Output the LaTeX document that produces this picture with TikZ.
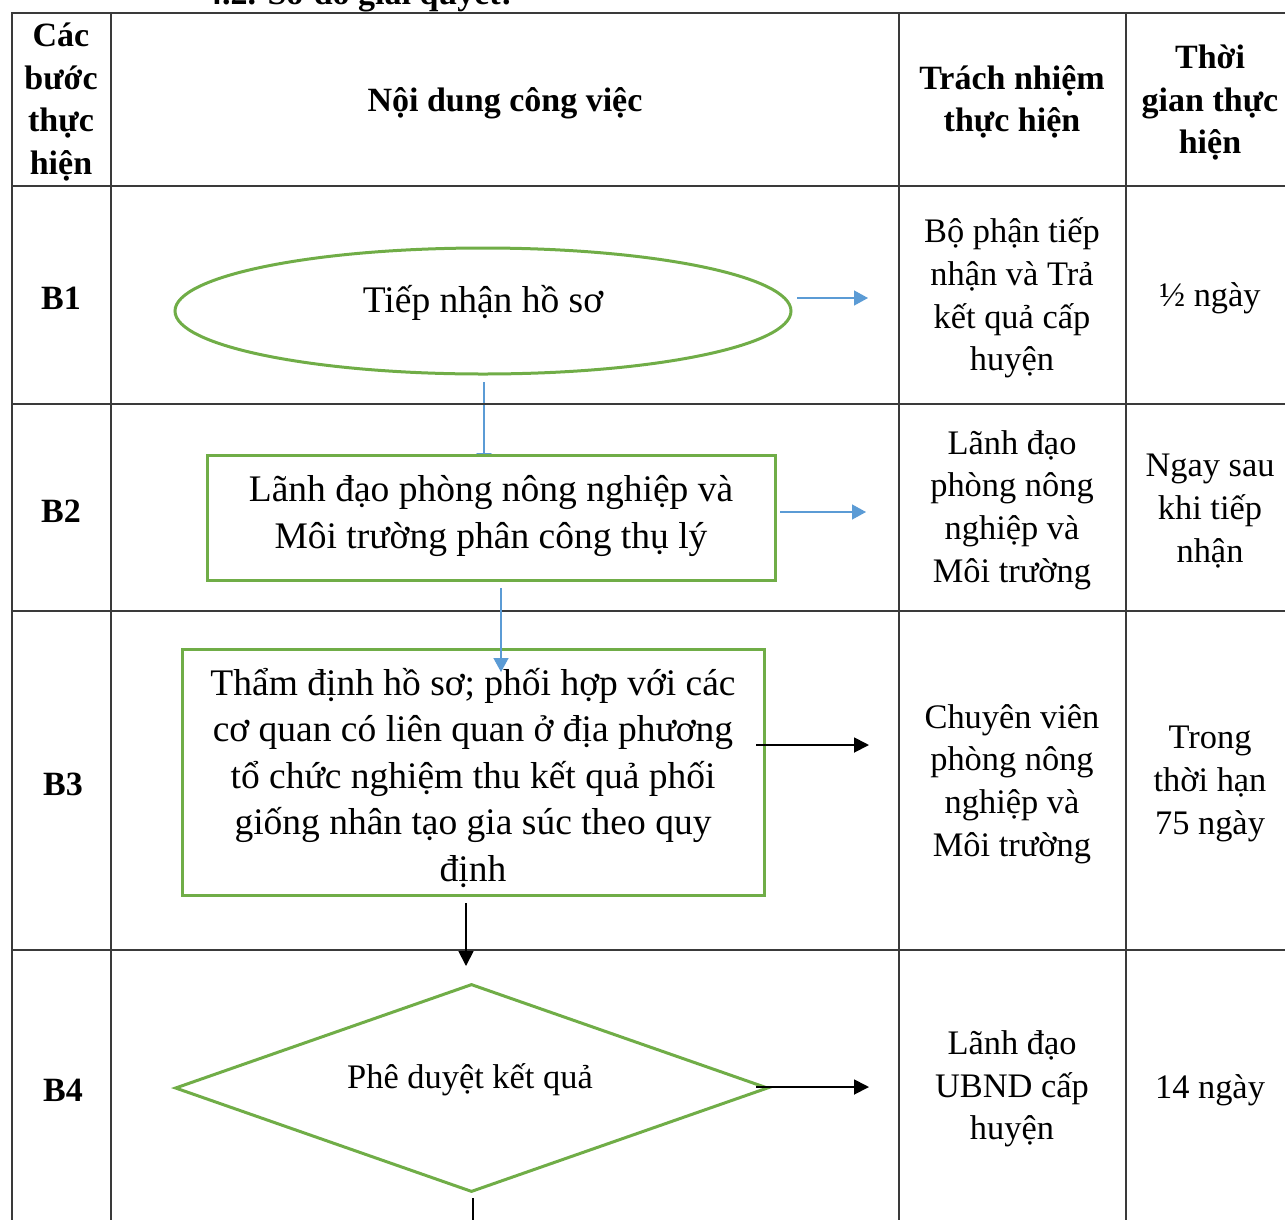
\documentclass[tikz,border=0pt]{standalone}
\usepackage{fontspec}
\setmainfont{Liberation Serif}
\usetikzlibrary{shapes.geometric,arrows.meta}
\definecolor{flowgreen}{HTML}{70AD47}
\definecolor{flowblue}{HTML}{5B9BD5}
\definecolor{rulegray}{HTML}{3A3A3A}
\pgfdeclarelayer{behind}
\pgfsetlayers{behind,main}
\begin{document}
\begin{tikzpicture}[x=1pt,y=-1pt,
  rule/.style={draw=rulegray,line width=1.6pt},
  flowshape/.style={draw=flowgreen,line width=3pt,inner sep=0pt,fill=white},
  flowtext/.style={font=\fontsize{37.5}{46.5}\selectfont,align=center,inner sep=0pt},
  celltext/.style={font=\fontsize{34.4}{42.7}\selectfont,align=center,inner sep=0pt},
  headtext/.style={font=\bfseries\fontsize{34}{42.5}\selectfont,align=center,inner sep=0pt},
  bluearrow/.style={draw=flowblue,line width=1.4pt,-{Triangle[length=14pt,width=15pt]}},
  blackarrow/.style={draw=black,line width=1.8pt,-{Triangle[length=15pt,width=15pt]}},
]
\useasboundingbox (0,0) rectangle (1285,1219);
\clip (0,0) rectangle (1285,1219);

% section heading above the table
\node[headtext,anchor=base west] (title) at (205,4) {4.2. Sơ đồ giải quyết:};

% table grid
\draw[rule] (12,1230) -- (12,13) -- (1295,13);
\foreach \x in {111,899,1126} \draw[rule] (\x,13) -- (\x,1230);
\foreach \y in {186,404,611,950} \draw[rule] (12,\y) -- (1295,\y);

% header row
\node[headtext] (h1) at (61,102) {Các\\bước\\thực\\hiện};
\node[headtext] (h2) at (505,103) {Nội dung công việc};
\node[headtext] (h3) at (1012,102) {Trách nhiệm\\thực hiện};
\node[headtext] (h4) at (1210,103) {Thời\\gian thực\\hiện};

% step labels
\node[headtext] (s1) at (61,298) {B1};
\node[headtext] (s2) at (61,511) {B2};
\node[headtext] (s3) at (63,784) {B3};
\node[headtext] (s4) at (63,1090) {B4};

% flowchart shapes
\node[flowshape,ellipse,minimum width=616pt,minimum height=126pt] (e1) at (483,311) {};
\node[flowtext] (t1) at (483,303) {Tiếp nhận hồ sơ};

\node[flowshape,rectangle,minimum width=568pt,minimum height=125pt] (b2) at (491,517.5) {};
\node[flowtext] (t2) at (491,516) {Lãnh đạo phòng nông nghiệp và\\Môi trường phân công thụ lý};

\node[flowshape,rectangle,minimum width=582pt,minimum height=246pt] (b3) at (473,772) {};
\node[flowtext] (t3) at (473,778) {Thẩm định hồ sơ; phối hợp với các\\cơ quan có liên quan ở địa phương\\tổ chức nghiệm thu kết quả phối\\giống nhân tạo gia súc theo quy\\định};

\node[flowshape,diamond,minimum width=593pt,minimum height=208pt] (d4) at (471.5,1088) {};
\node[celltext] (t4) at (470,1080) {Phê duyệt kết quả};

% vertical connectors
\begin{pgfonlayer}{behind}
\draw[bluearrow] (484,382) -- (484,467);
\end{pgfonlayer}
\coordinate (a2s) at (501,588);
\coordinate (a2e) at (501,672);
\draw[bluearrow] (a2s) -- (a2e);
\coordinate (a3s) at (466,903);
\coordinate (a3e) at (466,966);
\draw[blackarrow] (a3s) -- (a3e);
\coordinate (a4s) at (473,1198);
\coordinate (a4e) at (473,1230);
\draw[draw=black,line width=1.8pt] (a4s) -- (a4e);

% connectors towards the responsibility column
\coordinate (r1s) at (797,298);  \coordinate (r1e) at (868,298);
\coordinate (r2s) at (780,512);  \coordinate (r2e) at (866,512);
\coordinate (r3s) at (756,745);  \coordinate (r3e) at (869,745);
\coordinate (r4s) at (756,1087); \coordinate (r4e) at (869,1087);
\draw[bluearrow] (r1s) -- (r1e);
\draw[bluearrow] (r2s) -- (r2e);
\draw[blackarrow] (r3s) -- (r3e);
\draw[blackarrow] (r4s) -- (r4e);

% responsibility column
\node[celltext] (c1) at (1012,298) {Bộ phận tiếp\\nhận và Trả\\kết quả cấp\\huyện};
\node[celltext] (c2) at (1012,510) {Lãnh đạo\\phòng nông\\nghiệp và\\Môi trường};
\node[celltext] (c3) at (1012,784) {Chuyên viên\\phòng nông\\nghiệp và\\Môi trường};
\node[celltext] (c4) at (1012,1089) {Lãnh đạo\\UBND cấp\\huyện};

% time column
\node[celltext] (m1) at (1210,298) {½ ngày};
\node[celltext] (m2) at (1210,511) {Ngay sau\\khi tiếp\\nhận};
\node[celltext] (m3) at (1210,784) {Trong\\thời hạn\\75 ngày};
\node[celltext] (m4) at (1210,1090) {14 ngày};
\end{tikzpicture}
\end{document}
